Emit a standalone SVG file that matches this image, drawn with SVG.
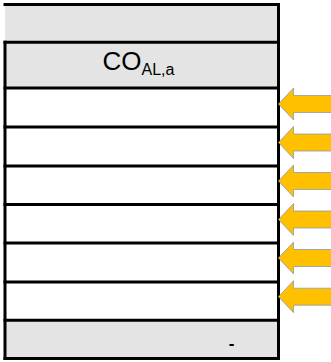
<svg xmlns="http://www.w3.org/2000/svg" width="331" height="362" viewBox="0 0 331 362">
  <defs>
    <style>
      .gray { fill: #E4E4E4; }
      .white { fill: #FFFFFF; }
      .ln { stroke: #000000; stroke-width: 3; fill: none; stroke-linecap: square; }
      .arrow { fill: #FFC000; stroke: #8A9BB4; stroke-width: 0.8; }
      .lbl { font-family: "Liberation Sans", Arial, sans-serif; fill: #000000; }
    </style>
    <path id="arr" d="M0,0 L15,-16 L15,-8.5 L60,-8.5 L60,8.5 L15,8.5 L15,16 Z"/>
  </defs>
  <rect width="331" height="362" fill="#FFFFFF"/>

  <g id="row-top">
    <rect class="gray" x="5" y="4.5" width="273.5" height="37.8"/>
    <line class="ln" x1="5" y1="4.5" x2="278.5" y2="4.5"/>
  </g>
  <g id="row-co">
    <rect class="gray" x="5" y="42.3" width="273.5" height="45.7"/>
    <text class="lbl" x="102.5" y="70" font-size="26" font-weight="300">CO<tspan font-size="16" dy="5">AL,a</tspan></text>
  </g>
  <g id="row-1"><rect class="white" x="5" y="88" width="273.5" height="39"/></g>
  <g id="row-2"><rect class="white" x="5" y="127" width="273.5" height="39"/></g>
  <g id="row-3"><rect class="white" x="5" y="166" width="273.5" height="38.5"/></g>
  <g id="row-4"><rect class="white" x="5" y="204.5" width="273.5" height="38.5"/></g>
  <g id="row-5"><rect class="white" x="5" y="243" width="273.5" height="39"/></g>
  <g id="row-6"><rect class="white" x="5" y="282" width="273.5" height="38.3"/></g>
  <g id="row-bottom">
    <rect class="gray" x="5" y="320.3" width="273.5" height="38.2"/>
    <text class="lbl" x="231.5" y="349" font-size="17" font-weight="bold" text-anchor="middle">-</text>
  </g>

  <g id="grid">
    <line class="ln" x1="5" y1="42.3" x2="278.5" y2="42.3"/>
    <line class="ln" x1="5" y1="88" x2="278.5" y2="88"/>
    <line class="ln" x1="5" y1="127" x2="278.5" y2="127"/>
    <line class="ln" x1="5" y1="166" x2="278.5" y2="166"/>
    <line class="ln" x1="5" y1="204.5" x2="278.5" y2="204.5"/>
    <line class="ln" x1="5" y1="243" x2="278.5" y2="243"/>
    <line class="ln" x1="5" y1="282" x2="278.5" y2="282"/>
    <line class="ln" x1="5" y1="320.3" x2="278.5" y2="320.3"/>
    <line class="ln" x1="5" y1="358.5" x2="278.5" y2="358.5"/>
    <line class="ln" x1="5" y1="42.3" x2="5" y2="358.5"/>
    <line class="ln" x1="278.5" y1="4.5" x2="278.5" y2="358.5"/>
  </g>

  <g id="connectors">
    <use href="#arr" class="arrow" transform="translate(278.5,104)"/>
    <use href="#arr" class="arrow" transform="translate(278.5,142.5)"/>
    <use href="#arr" class="arrow" transform="translate(278.5,181)"/>
    <use href="#arr" class="arrow" transform="translate(278.5,219.5)"/>
    <use href="#arr" class="arrow" transform="translate(278.5,258)"/>
    <use href="#arr" class="arrow" transform="translate(278.5,296.7)"/>
  </g>
</svg>
